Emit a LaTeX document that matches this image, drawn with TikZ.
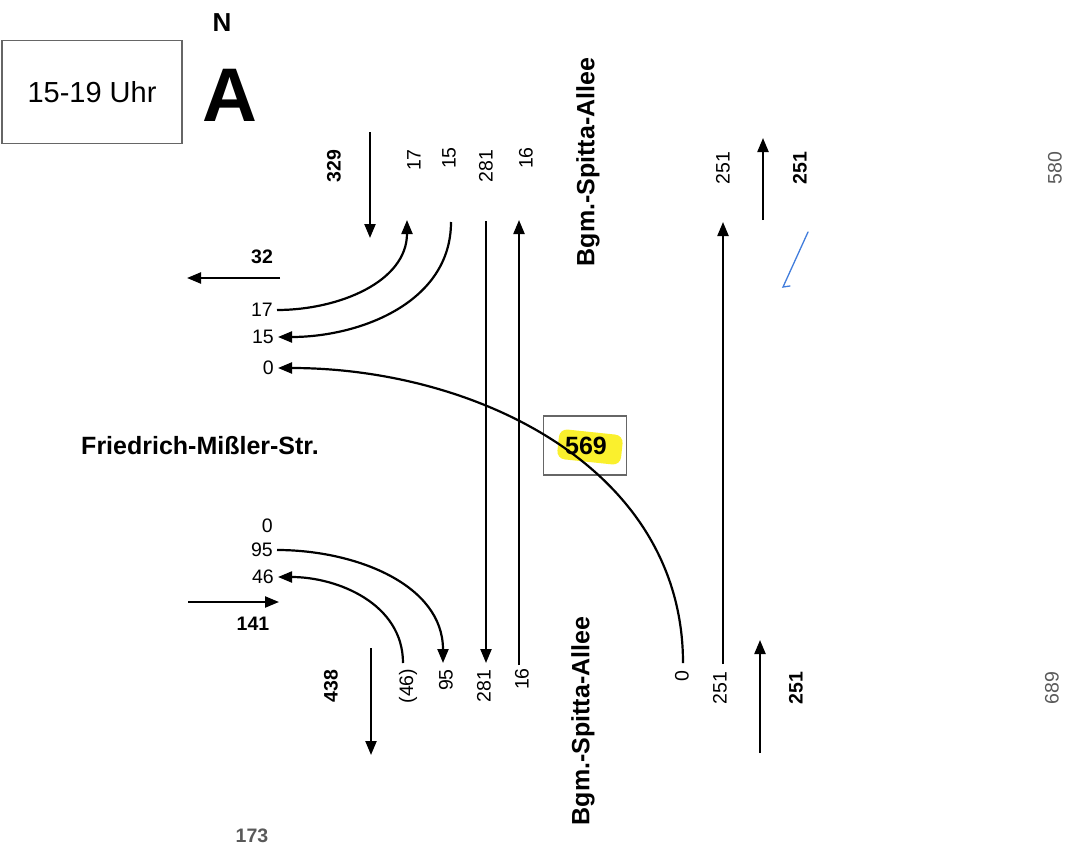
\documentclass[tikz,border=0pt]{standalone}
\usepackage{fontspec}
\setmainfont{Liberation Sans}
\usepackage{tikz}
\usetikzlibrary{arrows.meta, positioning, calc}
\definecolor{marker}{RGB}{250,240,45}
\definecolor{pen}{RGB}{65,125,220}

\begin{document}
\begin{tikzpicture}[x=1pt, y=-1pt,
  flow/.style={line width=2.2pt, -{Triangle[length=14pt, width=11pt]}},
  cnt/.style={font=\fontsize{19.5}{19.5}\selectfont, inner sep=1pt},
  tot/.style={font=\fontsize{19.5}{19.5}\selectfont\bfseries, inner sep=1pt},
  side/.style={cnt, anchor=east, inner xsep=4pt},
  street/.style={font=\fontsize{25}{25}\selectfont\bfseries, inner sep=1pt},
  frame/.style={draw=black!60, line width=1.4pt}]
  \useasboundingbox (0,0) rectangle (1075,856);
  %% Time box and zone sign
  \node[frame, minimum width=180pt, minimum height=103pt, font=\fontsize{29}{29}\selectfont] (time) at (92,92) {15-19 Uhr};
  \node[font=\fontsize{26}{26}\selectfont\bfseries] (north) at (222,23) {N};
  \node[font=\fontsize{76}{76}\selectfont\bfseries] (zone) at (230,95) {A};
  %% Street names
  \node[street] (fms) at (200,446) {Friedrich-Mißler-Str.};
  \node[street, rotate=90] (bsaN) at (588,162) {Bgm.-Spitta-Allee};
  \node[street, rotate=90] (bsaS) at (583,721) {Bgm.-Spitta-Allee};
  %% Count box in the middle (highlighted)
  \node[frame, minimum width=83pt, minimum height=59pt] (qbox) at (585,445.5) {};
  \fill[marker, rounded corners=8pt, rotate around={-6:(590,447)}] (558,432) rectangle (622,462);
  \node[street] (q569) at (586,446) {569};
  %% North arm
  \node[tot, rotate=90] (n329) at (334,166) {329};
  \node[cnt, rotate=90] (n17) at (414,160) {17};
  \node[cnt, rotate=90] (n15) at (449,158) {15};
  \node[cnt, rotate=90] (n281) at (486,166) {281};
  \node[cnt, rotate=90] (n16) at (526,158) {16};
  \node[cnt, rotate=90] (n251) at (723,168) {251};
  \node[tot, rotate=90] (n251s) at (800,168) {251};
  \node[cnt, rotate=90, text=black!65] (n580) at (1055,168) {580};
  %% West arm
  \node[tot] (w32) at (262,257) {32};
  \node[side] (w17) at (277,310) {17};
  \node[side] (w15) at (278,337) {15};
  \node[side] (w0a) at (278,368) {0};
  \node[side] (w0b) at (277,526) {0};
  \node[side] (w95) at (277,550) {95};
  \node[side] (w46) at (278,577) {46};
  \node[tot] (w141) at (253,624) {141};
  \node[tot, text=black!65] (s173) at (252,836) {173};
  %% South arm
  \node[tot, rotate=90] (s438) at (331,686) {438};
  \node[cnt, rotate=90] (s46) at (408,686) {(46)};
  \node[cnt, rotate=90] (s95) at (446,680) {95};
  \node[cnt, rotate=90] (s281) at (484,686) {281};
  \node[cnt, rotate=90] (s16) at (522,679) {16};
  \node[cnt, rotate=90] (s0) at (682,676) {0};
  \node[cnt, rotate=90] (s251) at (720,688) {251};
  \node[tot, rotate=90] (s251s) at (796,688) {251};
  \node[cnt, rotate=90, text=black!65] (s689) at (1052,688) {689};
  %% Arrow ends
  \coordinate (p329a) at (370,132); \coordinate (p329b) at (370,238);
  \coordinate (p32a) at (280,278);  \coordinate (p32b) at (187,278);
  \coordinate (p141a) at (188,602); \coordinate (p141b) at (279,602);
  \coordinate (p438a) at (371,648); \coordinate (p438b) at (371,755);
  \coordinate (p251a) at (763,220); \coordinate (p251b) at (763,138);
  \coordinate (p251c) at (760,753); \coordinate (p251d) at (760,640);
  \coordinate (t17) at (407,220);  \coordinate (t15) at (451,222);
  \coordinate (t281) at (486,221); \coordinate (b281) at (486,663);
  \coordinate (t16) at (519,220);  \coordinate (b16) at (519,665);
  \coordinate (t251) at (723,222); \coordinate (b251) at (723,664);
  \coordinate (b46) at (403,663);  \coordinate (b95) at (443,663);
  \coordinate (b0) at (683,663);
  %% Approach totals
  \draw[flow] (p329a) -- (p329b);
  \draw[flow] (p32a) -- (p32b);
  \draw[flow] (p141a) -- (p141b);
  \draw[flow] (p438a) -- (p438b);
  \draw[flow] (p251a) -- (p251b);
  \draw[flow] (p251c) -- (p251d);
  %% Through lanes
  \draw[flow] (t281) -- (b281);
  \draw[flow] (b16) -- (t16);
  \draw[flow] (b251) -- (t251);
  %% Turning flows
  \draw[flow] (w17.east) to[out=0, in=-90] (t17);
  \draw[flow] (t15) to[out=-90, in=0] (w15.east);
  \draw[flow] (b0) to[out=90, in=0] (w0a.east);
  \draw[flow] (w95.east) to[out=0, in=90] (b95);
  \draw[flow] (b46) to[out=90, in=0] (w46.east);
  %% Pen mark
  \draw[pen, line width=1.3pt, line cap=round] (808,232) -- (783,287) -- (790,286);
\end{tikzpicture}
\end{document}
